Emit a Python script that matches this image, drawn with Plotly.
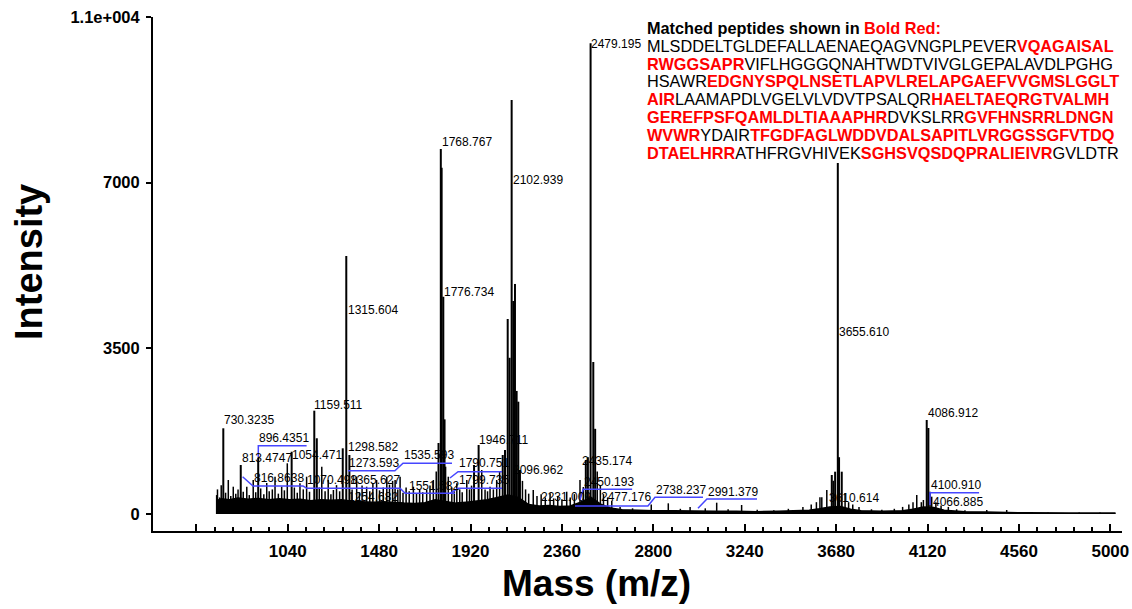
import plotly.graph_objects as go

# ---------------- data ----------------
# main / labelled peaks (position on the m/z axis, intensity)
peak_mz = [730, 814, 898, 1059, 1168, 1180, 1305, 1322, 1337,
           1766, 1777, 1781, 1789, 1795, 1937, 1959,
           2075, 2086, 2099, 2108, 2118, 2126, 2134, 2142, 2150, 2158,
           2475, 2485, 2498, 2511, 2520,
           3659, 3675, 3688, 3694, 3707, 4116, 4124]
peak_int = [1811, 1035, 1183, 1316, 2183, 1600, 1388, 5451, 1247,
            1500, 7712, 7317, 4590, 2000, 1035, 1458,
            1247, 1352, 4120, 3300, 8747, 4500, 4860, 2600, 2373, 930,
            1141, 1200, 9946, 3212, 1800,
            824, 894, 7417, 1200, 894, 1986, 1817]

# minor peaks ("grass")
minor_mz = [698, 702, 712, 720, 741, 754, 766, 778, 790, 801, 826, 843, 855, 874, 886,
            910, 925, 939, 951, 966, 979, 995, 1011, 1024, 1038, 1072, 1086, 1099, 1115,
            1131, 1145, 1192, 1204, 1220, 1235, 1248, 1260, 1275, 1290, 1350, 1372, 1385,
            1398, 1420, 1435, 1450, 1468, 1482, 1500, 1517, 1530, 1545, 1557, 1570, 1581,
            1595, 1610, 1625, 1645, 1660, 1675, 1690, 1709, 1725, 1741, 1755, 1800, 1813,
            1830, 1842, 1854, 1868, 1880, 1902, 1915, 1925, 1974, 1990, 2002, 2014, 2030,
            2046, 2060, 2170, 2185, 2200, 2222, 2240, 2260, 2280, 2303, 2320, 2340, 2360,
            2383, 2400, 2420, 2447, 2463, 2530, 2545, 2560, 2580, 2600,
            2640, 2700, 2790, 2872, 2930, 2977, 3050, 3105, 3160, 3225, 3300, 3380, 3450,
            3520, 3560, 3585, 3602, 3611, 3635, 3666, 3723, 3740, 3760, 3790, 3850, 3900,
            3960, 4000, 4030, 4050, 4068, 4090, 4100, 4132, 4140, 4160, 4185, 4220, 4260,
            4300, 4405, 4501, 4600, 4700, 4850, 4950]
minor_int = [400, 520, 350, 610, 450, 718, 380, 577, 430, 520, 470, 577, 400, 718, 460,
             540, 420, 655, 480, 520, 788, 430, 577, 500, 1071, 560, 450, 648, 520,
             788, 470, 560, 1000, 480, 718, 420, 507, 610, 480, 520, 788, 460,
             600, 577, 480, 650, 718, 500, 560, 788, 620, 700, 718, 520, 788,
             450, 560, 480, 577, 430, 520, 460, 507, 600, 718, 900, 1000, 788,
             560, 480, 648, 520, 460, 718, 520, 600, 930, 520, 480, 577, 520,
             718, 900, 700, 520, 430, 507, 380, 420, 350, 437, 330, 380, 310,
             471, 350, 420, 718, 570, 900, 600, 420, 350, 280,
             150, 120, 200, 226, 110, 150, 120, 239, 100, 190, 90, 80, 110,
             150, 200, 250, 352, 352, 507, 700, 444, 250, 200, 150, 100, 90,
             110, 150, 200, 250, 401, 250, 296, 471, 366, 250, 180, 150, 100,
             80, 85, 85, 40, 30, 30, 30]

# noise floor envelope
env_mz = [698, 720, 760, 800, 850, 900, 950, 1000, 1050, 1100, 1150, 1200, 1250, 1300,
          1350, 1400, 1450, 1500, 1550, 1600, 1650, 1700, 1750, 1800, 1850, 1900, 1950,
          2000, 2050, 2100, 2150, 2200, 2250, 2300, 2350, 2400, 2450, 2500, 2550, 2600,
          2650, 2700, 2800, 2900, 3000, 3100, 3200, 3300, 3400, 3500, 3550, 3600, 3650,
          3700, 3750, 3800, 3900, 4000, 4050, 4100, 4150, 4200, 4250, 4300, 4400, 4500,
          4600, 4800, 5025]
env_int = [280, 320, 300, 340, 310, 330, 300, 320, 300, 310, 280, 300, 290, 300,
           270, 260, 250, 260, 240, 230, 220, 240, 300, 260, 230, 250, 280,
           300, 350, 400, 350, 200, 170, 180, 160, 170, 250, 350, 200, 120,
           90, 80, 70, 70, 60, 60, 60, 50, 60, 70, 80, 110, 150,
           160, 100, 70, 60, 70, 100, 150, 140, 80, 60, 50, 40, 30,
           25, 20, 20]

# peak labels
label_text = ["2479.195", "1768.767", "2102.939", "1776.734", "1315.604", "3655.610",
              "4086.912", "4100.910", "4066.885", "3610.614", "1159.511", "730.3235",
              "896.4351", "813.4747", "1054.471", "1298.582", "1273.593", "1535.593",
              "816.8638", "1070.498", "1365.627", "1254.682", "1551.582", "1790.751",
              "1799.735", "1946.711", "2096.962", "2231.009", "2435.174", "2450.193",
              "2477.176", "2738.237", "2991.379"]
label_mz = [2495, 1778, 2121, 1789, 1324, 3688,
            4116, 4133, 4140, 3640, 1163, 730,
            898, 814, 1054, 1324, 1330, 1595,
            874, 1128, 1336, 1324, 1620, 1860,
            1860, 1957, 2120, 2254, 2450, 2461,
            2543, 2808, 3058]
label_int = [9931, 7860, 7057, 4697, 4311, 3852,
             2128, 613, 260, 330, 2303, 1986,
             1600, 1177, 1247, 1422, 1071, 1247,
             752, 718, 718, 366, 592, 1071,
             718, 1564, 930, 366, 1120, 682,
             353, 507, 471]

# blue leader lines (m/z, intensity)
leader_mz = [[898.5, 898.5, 1131],
             [823, 873, 1114, 1133, 1581, 1605, 1845],
             [1821, 1860, 2072],
             [1821, 1860, 2072],
             [1330, 1556, 1595, 1831],
             [2447, 2462, 2698],
             [2423, 2774, 2808, 3039],
             [3015, 3058, 3299],
             [4132, 4132, 4368]]
leader_int = [[1198, 1443, 1443],
              [788, 592, 592, 543, 543, 437, 437],
              [761, 894, 894],
              [437, 543, 543],
              [915, 915, 1071, 1071],
              [296, 522, 522],
              [169, 169, 353, 353],
              [120, 317, 317],
              [190, 450, 450]]

# axis ticks
x_tickvals = [600, 1040, 1480, 1920, 2360, 2800, 3240, 3680, 4120, 4560, 5000]
x_ticktext = ["", "1040", "1480", "1920", "2360", "2800", "3240", "3680", "4120", "4560", "5000"]
y_tickvals = [0, 3500, 7000, 10500]
y_ticktext = ["0", "3500", "7000", "1.1e+004"]

# sequence block: (text, matched)
header = [("Matched peptides shown in ", False), ("Bold Red:", True)]
seq_lines = [
    [("MLSDDELTGLDEFALLAENAEQAGVNGPLPEVER", False), ("VQAGAISAL", True)],
    [("RWGGSAPR", True), ("VIFLHGGGQNAHTWDTVIVGLGEPALAVDLPGHG", False)],
    [("HSAWR", False), ("EDGNYSPQLNSETLAPVLRELAPGAEFVVGMSLGGLT", True)],
    [("AIR", True), ("LAAMAPDLVGELVLVDVTPSALQR", False), ("HAELTAEQRGTVALMH", True)],
    [("GEREFPSFQAMLDLTIAAAPHR", True), ("DVKSLRR", False), ("GVFHNSRRLDNGN", True)],
    [("WVWR", True), ("YDAIR", False), ("TFGDFAGLWDDVDALSAPITLVRGGSSGFVTDQ", True)],
    [("DTAELHRR", True), ("ATHFRGVHIVEK", False), ("SGHSVQSDQPRALIEIVR", True), ("GVLDTR", False)],
]

# ---------------- figure ----------------
W, H = 1132, 609
ML, MR, MT, MB = 153, 10, 17, 78
PW, PH = W - ML - MR, H - MT - MB


def px_to_paper(px, py):
    return (px - ML) / PW, (H - MB - py) / PH


def sticks(mz, it):
    xs, ys = [], []
    for m, h in zip(mz, it):
        xs += [m, m, None]
        ys += [0, h, None]
    return xs, ys


fig = go.Figure()

fig.add_trace(go.Scatter(x=env_mz, y=env_int, mode="lines", fill="tozeroy",
                         fillcolor="black", line=dict(color="black", width=1.5),
                         hoverinfo="skip"))
mx, my = sticks(minor_mz, minor_int)
fig.add_trace(go.Scatter(x=mx, y=my, mode="lines", line=dict(color="black", width=1.5),
                         hoverinfo="skip"))
px_, py_ = sticks(peak_mz, peak_int)
fig.add_trace(go.Scatter(x=px_, y=py_, mode="lines", line=dict(color="black", width=2),
                         hoverinfo="skip"))
for lm, li in zip(leader_mz, leader_int):
    fig.add_trace(go.Scatter(x=lm, y=li, mode="lines",
                             line=dict(color="rgb(70,70,255)", width=1.5),
                             hoverinfo="skip"))

annotations = []
label_font = dict(family="Liberation Sans, Arial", size=12, color="black")
for t, m, h in zip(label_text, label_mz, label_int):
    annotations.append(dict(x=m, y=h, xref="x", yref="y", text=t, showarrow=False,
                            xanchor="left", yanchor="middle", font=label_font,
                            borderpad=0))


def seg_html(segs, bold_all=False):
    out = ""
    for txt, red in segs:
        if red:
            out += "<span style='color:#ff0000'><b>" + txt + "</b></span>"
        elif bold_all:
            out += "<b>" + txt + "</b>"
        else:
            out += txt
    return out


seq_font = dict(family="Liberation Sans, Arial", size=16.3, color="black")
line_y = [28 + 17.8 * i for i in range(len(seq_lines) + 1)]
x0, _ = px_to_paper(646, 0)
all_lines = [(header, True)] + [(s, False) for s in seq_lines]
for (segs, b), ly in zip(all_lines, line_y):
    _, yp = px_to_paper(0, ly)
    annotations.append(dict(x=x0, y=yp, xref="paper", yref="paper", text=seg_html(segs, b),
                            showarrow=False, xanchor="left", yanchor="middle",
                            font=seq_font, borderpad=0))

# axis titles
tx, ty = px_to_paper(596, 583)
annotations.append(dict(x=tx, y=ty, xref="paper", yref="paper", text="<b>Mass (m/z)</b>",
                        showarrow=False, xanchor="center", yanchor="middle",
                        font=dict(family="Liberation Sans, Arial", size=37, color="black")))
tx, ty = px_to_paper(29, 262)
annotations.append(dict(x=tx, y=ty, xref="paper", yref="paper", text="<b>Intensity</b>",
                        showarrow=False, xanchor="center", yanchor="middle", textangle=-90,
                        font=dict(family="Liberation Sans, Arial", size=38, color="black")))

fig.update_layout(
    width=W, height=H, autosize=False,
    margin=dict(l=ML, r=MR, t=MT, b=MB, pad=0, autoexpand=False),
    paper_bgcolor="white", plot_bgcolor="white",
    showlegend=False,
    annotations=annotations,
    xaxis=dict(range=[391.6, 5056], automargin=False, showline=True, linecolor="black",
               linewidth=2, showgrid=False, zeroline=False, ticks="inside", ticklen=7,
               tickwidth=1.5, tickcolor="black", tickmode="array", tickvals=x_tickvals,
               ticktext=x_ticktext,
               tickfont=dict(family="Liberation Sans, Arial", size=17, color="black",
                             weight="bold"),
               ticklabelstandoff=4,
               minor=dict(ticks="inside", ticklen=4, tickwidth=1.5, tickcolor="black",
                          tickmode="array", tickvals=list(range(688, 5001, 88)),
                          showgrid=False)),
    yaxis=dict(range=[-359, 10500], automargin=False, showline=True, linecolor="black",
               linewidth=2, showgrid=False, zeroline=False, ticks="outside", ticklen=5,
               tickwidth=1.5, tickcolor="black", tickmode="array", tickvals=y_tickvals,
               ticktext=y_ticktext,
               tickfont=dict(family="Liberation Sans, Arial", size=16.5, color="black",
                             weight="bold"),
               ticklabelstandoff=3),
)

fig.write_html(
    "out.html",
    config={"displayModeBar": False},
    post_script=("document.body.style.margin='0px';"
                 "document.body.style.overflow='hidden';"
                 "document.documentElement.style.overflow='hidden';"),
)
